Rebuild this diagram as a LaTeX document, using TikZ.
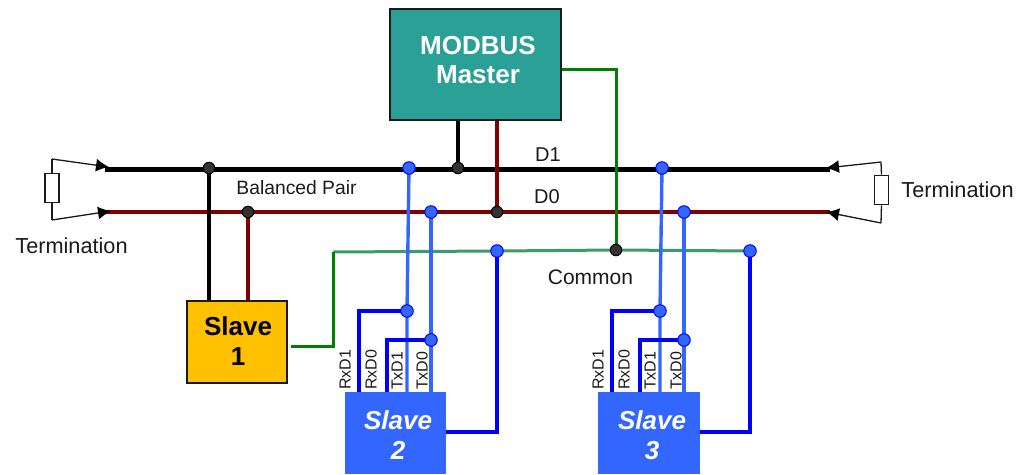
\documentclass[tikz,border=0pt]{standalone}
\usepackage{fontspec}
\setmainfont{Liberation Sans}
\usetikzlibrary{arrows.meta,backgrounds}
\definecolor{tealbox}{HTML}{2AA096}
\definecolor{goldbox}{HTML}{FFC000}
\definecolor{bluebox}{HTML}{3366FF}
\definecolor{maroonw}{HTML}{800000}
\definecolor{greenw}{HTML}{008000}
\definecolor{paleg}{HTML}{3C9A6C}
\definecolor{pureb}{HTML}{0000FF}
\definecolor{dotgrey}{HTML}{333333}
\definecolor{inkc}{HTML}{1A1A1A}
\tikzset{
  box/.style={rectangle,inner sep=0pt,outer sep=0pt,align=center,text=white,font=\fontsize{26}{29.5}\selectfont\bfseries},
  blackdot/.style={circle,minimum size=11.5pt,inner sep=0pt,fill=dotgrey,draw=black,line width=1pt},
  bluedot/.style={circle,minimum size=12.5pt,inner sep=0pt,fill=bluebox,draw=pureb,line width=1pt},
  lab/.style={inner sep=0pt,text=inkc,font=\fontsize{#1}{#1}\selectfont},
  pin/.style={inner sep=0pt,text=inkc,rotate=90,font=\fontsize{16}{16}\selectfont},
  resistor/.style={rectangle,draw=inkc,fill=white,line width=1.6pt,inner sep=0pt,minimum width=14pt,minimum height=29pt},
  wiretip/.style={draw=inkc,line width=1.3pt,-{Latex[length=13pt,width=13pt,color=black]}},
  wirethin/.style={draw=inkc,line width=1.3pt},
  d1w/.style={draw=black,line width=5pt},
  d0w/.style={draw=maroonw,line width=4pt},
  gw/.style={draw=greenw,line width=3pt},
  comw/.style={draw=paleg,line width=3pt},
  lbw/.style={draw=bluebox,line width=3.4pt},
  lbwb/.style={draw=bluebox,line width=4pt},
  bw/.style={draw=pureb,line width=3.2pt},
}
\begin{document}
\begin{tikzpicture}[x=1pt,y=-1pt]
\useasboundingbox (0,0) rectangle (1020,474);
% boxes
\node[box,draw=inkc,line width=1.6pt,fill=tealbox,minimum width=171pt,minimum height=111pt] (master) at (475.5,64.5) {};
\node[box] (mastertxt) at (478,60) {MODBUS\\Master};
\node[box,draw=inkc,line width=1.4pt,fill=goldbox,minimum width=100pt,minimum height=82pt] (slavea) at (237,342) {};
\node[box,text=black] (slaveatxt) at (238,341) {Slave\\1};
\node[box,fill=bluebox,minimum width=101pt,minimum height=82pt] (slaveb) at (395.5,433) {};
\node[box,font=\fontsize{26}{29.5}\selectfont\bfseries\itshape] (slavebtxt) at (398,435) {Slave\\2};
\node[box,fill=bluebox,minimum width=102pt,minimum height=82pt] (slavec) at (649,433) {};
\node[box,font=\fontsize{26}{29.5}\selectfont\bfseries\itshape] (slavectxt) at (652,435) {Slave\\3};
% resistors
\node[resistor] (rl) at (52,188) {};
\node[resistor] (rr) at (881.5,190) {};
% junction dots
\node[blackdot] (ja) at (209,168) {};
\node[blackdot] (jb) at (248,212) {};
\node[blackdot] (jc) at (458,168) {};
\node[blackdot] (jd) at (497,212) {};
\node[blackdot] (je) at (616,250) {};
\node[bluedot] (ba) at (409,168) {};
\node[bluedot] (bb) at (431,212) {};
\node[bluedot] (bc) at (662,168) {};
\node[bluedot] (bd) at (684,212) {};
\node[bluedot] (be) at (497,251) {};
\node[bluedot] (bf) at (750,251) {};
\node[bluedot] (bg) at (407,311) {};
\node[bluedot] (bh) at (431,340) {};
\node[bluedot] (bi) at (660,311) {};
\node[bluedot] (bj) at (684,340) {};
% free ends and pins
\coordinate (d1l) at (105,169);
\coordinate (d1r) at (830,169);
\coordinate (d0l) at (105,212);
\coordinate (d0r) at (830,212);
\coordinate (coml) at (333,252);
\coordinate (s1out) at (291,346);
\coordinate (mout) at (561,69);
\coordinate (s2out) at (446,432);
\coordinate (s3out) at (700,432);
\coordinate (tltip) at (109,167);
\coordinate (tlcorner) at (52,159);
\coordinate (blcorner) at (52,220);
\coordinate (bltip) at (111,211);
\coordinate (trtip) at (826,168);
\coordinate (trcorner) at (881,162);
\coordinate (brcorner) at (881,223);
\coordinate (brtip) at (826,212);
\coordinate (rxa) at (359,392);
\coordinate (txa) at (387,392);
\coordinate (rxb) at (612,392);
\coordinate (txb) at (640,392);
% labels
\node[lab=20] (l1) at (548,155) {D1};
\node[lab=20] (l0) at (547,197) {D0};
\node[lab=19.3] (lbp) at (296.5,188) {Balanced Pair};
\node[lab=21.7] (ltl) at (71.5,246) {Termination};
\node[lab=21.7] (ltr) at (957.5,190) {Termination};
\node[lab=21] (lcm) at (590.5,277) {Common};
\foreach \x/\t/\n in {345/RxD1/a,371/RxD0/b,397/TxD1/c,422/TxD0/d,598/RxD1/e,624/RxD0/f,650/TxD1/g,676/TxD0/h}
  \node[pin,anchor=west] (pin\n) at (\x,390) {\t};
\begin{scope}[on background layer]
  % termination wires
  \draw[wirethin] (rl.north) -- (tlcorner);
  \draw[wirethin] (rl.south) -- (blcorner);
  \draw[wirethin] (rr.north) -- (trcorner);
  \draw[wirethin] (rr.south) -- (brcorner);
  % buses
  \draw[d1w] (d1l) -- (d1r);
  \draw[d0w] (d0l) -- (d0r);
  \draw[wiretip] (tlcorner) -- (tltip);
  \draw[wiretip] (blcorner) -- (bltip);
  \draw[wiretip] (trcorner) -- (trtip);
  \draw[wiretip] (brcorner) -- (brtip);
  % common
  \draw[comw] (coml) -- (be.center) -- (je.center) -- (bf.center);
  \draw[gw] (s1out) -| (coml);
  \draw[gw] (mout) -| (je.center);
  % master
  \draw[d1w,line width=4.5pt] (jc.center |- master.south) -- (jc.center);
  \draw[d0w,line width=3.5pt] (jd.center |- master.south) -- (jd.center);
  % slave 1
  \draw[d1w,line width=4pt] (ja.center) -- (ja.center |- slavea.north);
  \draw[d0w,line width=3.5pt] (jb.center) -- (jb.center |- slavea.north);
  % slave 2
  \draw[lbw] (ba.center) -- (bg.center) -- (bg.center |- slaveb.north);
  \draw[lbwb] (bb.center) -- (bb.center |- slaveb.north);
  \draw[bw] (rxa) |- (bg.center);
  \draw[bw] (txa) |- (bh.center);
  \draw[bw] (s2out) -| (be.center);
  % slave 3
  \draw[lbw] (bc.center) -- (bi.center) -- (bi.center |- slavec.north);
  \draw[lbwb] (bd.center) -- (bd.center |- slavec.north);
  \draw[bw] (rxb) |- (bi.center);
  \draw[bw] (txb) |- (bj.center);
  \draw[bw] (s3out) -| (bf.center);
\end{scope}
\end{tikzpicture}
\end{document}
